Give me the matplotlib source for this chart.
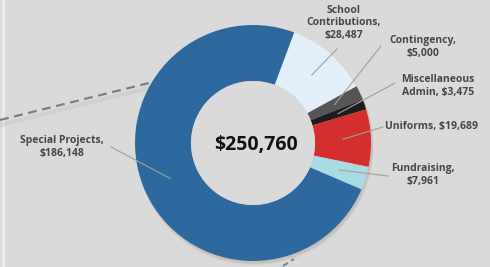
import matplotlib.pyplot as plt
import numpy as np

# data
categories = ['School Contributions', 'Contingency', 'Miscellaneous Admin',
              'Uniforms', 'Fundraising', 'Special Projects']
values = [28487, 5000, 3475, 19689, 7961, 186148]
label_texts = ['School\nContributions,\n$28,487', 'Contingency,\n$5,000',
               'Miscellaneous\nAdmin, $3,475', 'Uniforms, $19,689',
               'Fundraising,\n$7,961', 'Special Projects,\n$186,148']
total_text = '${:,}'.format(sum(values))

colors = ['#e2eef8', '#555555', '#1c1c1c', '#d42e2e', '#a9dbe4', '#2d699e']

# layout (pixel coords, y measured from top)
W, H = 490, 267
cx, cy = 253, 143
r_out, r_in = 118, 62
start = 69.6
text_pos = [(344, 23), (423, 47), (438, 86), (431, 127), (423, 175), (62, 147)]
line_end = [(337, 49), (381, 46), (395, 83), (383, 127), (388, 176), (111, 147)]


def px(x, y):
    return x, H - y


fig = plt.figure(figsize=(W / 100, H / 100), dpi=100)
fig.patch.set_facecolor('#dadada')
ax = fig.add_axes([0, 0, 1, 1])
ax.set_xlim(0, W)
ax.set_ylim(0, H)
ax.set_aspect('equal')
ax.axis('off')

# left page edge
ax.plot([3, 3], [0, H], color='#ececec', lw=2, zorder=1)

# dashed line going into the chart, with soft shadow
ax.plot([0, 157], [H - 125, H - 86], color='#c8c8c8', lw=3, alpha=0.5, zorder=1)
ax.plot([0, 157], [H - 120, H - 81], color='#7e7e7e', lw=1.6,
        dashes=(4, 2.5), zorder=2)
ax.plot([283, 294], [H - 266, H - 259], color='#7e7e7e', lw=1.4,
        dashes=(3, 2), zorder=2)

# shadow of the donut
for k, a in zip([4, 3, 2], [0.05, 0.07, 0.09]):
    sh = plt.Circle(px(cx + 1.5, cy + k), r_out + 0.5, color='#7a5f45',
                    alpha=a, lw=0, zorder=2)
    ax.add_patch(sh)

wedges, _ = ax.pie(values, colors=colors, startangle=start, counterclock=False,
                   radius=r_out, center=px(cx, cy), frame=True,
                   wedgeprops=dict(width=r_out - r_in, linewidth=0))
for w in wedges:
    w.set_zorder(3)
ax.add_patch(plt.Circle(px(cx, cy), r_in, color='#dadada', lw=0, zorder=3))
ax.set_xlim(0, W)
ax.set_ylim(0, H)
ax.axis('off')

# leader lines and labels
r_mid = (r_out + r_in) / 2
for w, txt, tp, le in zip(wedges, label_texts, text_pos, line_end):
    ang = np.deg2rad((w.theta1 + w.theta2) / 2)
    ax_x = cx + r_mid * np.cos(ang)
    ax_y = H - cy + r_mid * np.sin(ang)
    ax.plot([ax_x, le[0]], [ax_y, H - le[1]], color='#a0a0a0', lw=0.8, zorder=4)
    ax.text(tp[0], H - tp[1], txt, ha='center', va='center', fontsize=7.5,
            fontweight='bold', color='#474747', family='Open Sans',
            linespacing=1.15, zorder=5)

ax.text(256, H - 145, total_text, ha='center', va='center', fontsize=14,
        fontweight='bold', color='#111111', family='Open Sans', zorder=5)

fig.savefig('out.png', dpi=100, facecolor=fig.get_facecolor())
